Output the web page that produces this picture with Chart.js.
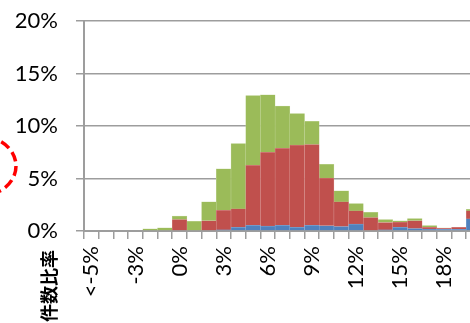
<!DOCTYPE html>
<html>
<head>
<meta charset="utf-8">
<script src="https://cdn.jsdelivr.net/npm/chart.js@4.4.1/dist/chart.umd.min.js"></script>
<style>
  html, body { margin: 0; padding: 0; background: #fff; overflow: hidden; }
  #wrap { position: relative; width: 507px; height: 323px; }
</style>
</head>
<body>
<div id="wrap"><canvas id="chart"></canvas></div>
<script>
// bins: "<-5%", then -5% .. 20% in 1% steps
const categories = ["<-5%", "-5%", "-4%", "-3%", "-2%", "-1%", "0%", "1%", "2%", "3%",
  "4%", "5%", "6%", "7%", "8%", "9%", "10%", "11%", "12%", "13%",
  "14%", "15%", "16%", "17%", "18%", "19%", "20%"];

// share of cases (%), stacked bottom -> top
const blueValues = [0, 0, 0, 0, 0, 0, 0, 0, 0, 0.1,
  0.35, 0.54, 0.48, 0.54, 0.35, 0.54, 0.5, 0.41, 0.67, 0,
  0.1, 0.35, 0.22, 0.19, 0.15, 0.15, 1.15];
const redValues = [0, 0, 0, 0, 0, 0, 1.08, 0, 0.98, 1.88,
  1.75, 5.71, 7.01, 7.33, 7.84, 7.68, 4.53, 2.36, 1.24, 1.27,
  0.7, 0.51, 0.76, 0.16, 0.11, 0.2, 0.76];
const greenValues = [0, 0, 0, 0, 0.2, 0.3, 0.35, 0.93, 1.79, 3.95,
  6.22, 6.65, 5.48, 4.02, 3.0, 2.23, 1.31, 1.05, 0.7, 0.52,
  0.28, 0.1, 0.2, 0.16, 0.02, 0, 0.16];

const yTicks = [0, 5, 10, 15, 20];
const axisTitle = "件数比率";

const gridColor = "#9d9d9d";
const tickFont = { family: "Lato", size: 22 };

// y-axis caption and the red dashed mark sit outside the plot area
const decorations = {
  id: "decorations",
  afterDraw(chart) {
    const ctx = chart.ctx;
    ctx.save();
    ctx.translate(49, 322);
    ctx.rotate(-Math.PI / 2);
    ctx.font = "bold 18px 'Noto Sans CJK JP'";
    ctx.fillStyle = "#000";
    ctx.textAlign = "left";
    ctx.textBaseline = "middle";
    ctx.fillText(axisTitle, 0, 0);
    ctx.restore();

    ctx.save();
    ctx.strokeStyle = "#ff0000";
    ctx.lineWidth = 3.5;
    ctx.setLineDash([10, 5]);
    ctx.beginPath();
    ctx.ellipse(-17, 166, 33, 29, 0, 0, Math.PI * 2);
    ctx.stroke();
    ctx.restore();
  },
};

new Chart(document.getElementById("chart"), {
  type: "bar",
  data: {
    labels: categories,
    datasets: [
      { label: "blue", data: blueValues, backgroundColor: "#4F81BD", borderColor: "#95B3D7", borderWidth: 0.5 },
      { label: "red", data: redValues, backgroundColor: "#C0504D", borderColor: "#D99694", borderWidth: 0.5 },
      { label: "green", data: greenValues, backgroundColor: "#9BBB59", borderColor: "#C3D69B", borderWidth: 0.5 },
    ],
  },
  options: {
    responsive: true,
    maintainAspectRatio: false,
    animation: false,
    layout: { padding: { top: 21, left: 0, right: 0, bottom: 0 } },
    datasets: { bar: { categoryPercentage: 1, barPercentage: 1 } },
    plugins: { legend: { display: false }, tooltip: { enabled: false } },
    scales: {
      x: {
        stacked: true,
        afterFit: (scale) => { scale.height = 92; },
        grid: { offset: true, drawOnChartArea: false, color: gridColor, lineWidth: 1.5, tickLength: 8 },
        border: { color: gridColor, width: 2 },
        ticks: {
          autoSkip: false,
          maxRotation: 90,
          minRotation: 90,
          padding: 7,
          color: "#000",
          font: tickFont,
          callback: (v, i) => (i % 3 === 0 ? categories[i] : ""),
        },
      },
      y: {
        stacked: true,
        min: yTicks[0],
        max: yTicks[yTicks.length - 1],
        afterFit: (scale) => {
          scale.width = 84;
          scale.paddingTop = 0;
          scale.paddingBottom = 0;
        },
        afterBuildTicks: (scale) => { scale.ticks = yTicks.map((v) => ({ value: v })); },
        grid: { color: gridColor, lineWidth: 1.5, tickLength: 8 },
        border: { color: gridColor, width: 2 },
        ticks: {
          padding: 18,
          color: "#000",
          font: tickFont,
          callback: (v) => v + "%",
        },
      },
    },
  },
  plugins: [decorations],
});
</script>
</body>
</html>
